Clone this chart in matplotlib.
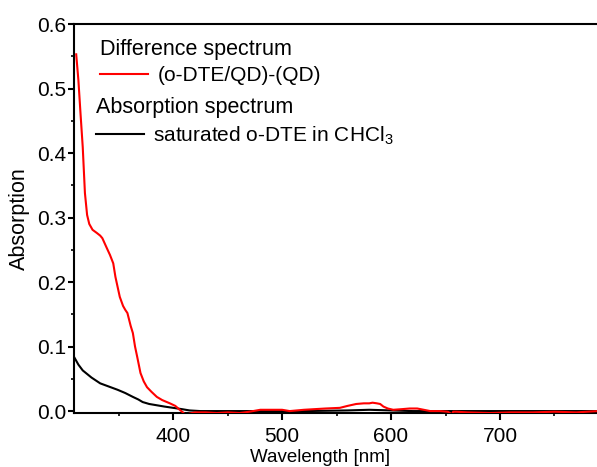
import numpy as np
import matplotlib.pyplot as plt

plt.rcParams['font.family'] = ['Liberation Sans', 'DejaVu Sans']
plt.rcParams['mathtext.fontset'] = 'custom'
plt.rcParams['mathtext.rm'] = 'Liberation Sans'

# difference spectrum (o-DTE/QD)-(QD)
wl_diff = [311, 313, 315, 317, 319, 321, 323, 326, 330, 333, 335, 339, 342, 345,
           347, 351, 354, 356, 358, 361, 363, 365, 367, 370, 373, 376, 380, 385,
           390, 397, 402, 406, 409, 411, 415, 420, 430, 440, 450, 461, 470, 480,
           490, 500, 507, 520, 540, 553, 560, 568, 575, 580, 583, 587, 590, 593,
           597, 602, 610, 617, 624, 630, 636, 645, 652, 655, 656, 657, 660, 670,
           691, 710, 730, 750, 770, 790, 800]
abs_diff = [0.553, 0.513, 0.46, 0.409, 0.338, 0.304, 0.29, 0.281, 0.276, 0.272,
            0.268, 0.253, 0.242, 0.229, 0.208, 0.177, 0.163, 0.157, 0.152, 0.132,
            0.121, 0.10, 0.084, 0.059, 0.046, 0.037, 0.03, 0.022, 0.017, 0.012,
            0.008, 0.002, -0.002, -0.006, -0.004, -0.002, -0.002, -0.003, -0.002,
            -0.003, -0.001, 0.002, 0.002, 0.002, 0.0, 0.002, 0.004, 0.005, 0.008,
            0.011, 0.012, 0.012, 0.013, 0.012, 0.011, 0.007, 0.004, 0.002, 0.003,
            0.004, 0.004, 0.002, 0.0, 0.0, -0.001, -0.004, -0.006, -0.001, -0.001,
            -0.002, -0.003, -0.002, -0.002, -0.001, -0.002, 0.0, 0.0]

# absorption spectrum, saturated o-DTE in CHCl3
wl_abs = [309, 313, 317, 325, 333, 341, 349, 356, 363, 368, 372, 378, 385, 392,
          400, 408, 415, 425, 440, 470, 520, 560, 580, 600, 620, 700, 800]
abs_abs = [0.084, 0.072, 0.063, 0.052, 0.043, 0.038, 0.033, 0.028, 0.022, 0.018,
           0.014, 0.011, 0.009, 0.007, 0.005, 0.003, 0.001, 0.0, 0.0, 0.0, 0.0,
           0.001, 0.002, 0.001, 0.0, 0.0, 0.0]

fig = plt.figure(figsize=(5.97, 4.67), dpi=100)
ax = fig.add_axes([0.124, 0.1156, 0.896, 0.833])

l1, = ax.plot(wl_diff, abs_diff, color='red', lw=1.5, zorder=3)
l2, = ax.plot(wl_abs, abs_abs, color='black', lw=1.5, zorder=2)

ax.set_xlim(309, 800)
ax.set_ylim(-0.003, 0.6)
ax.set_xticks([400, 500, 600, 700])
ax.set_xticks([350, 450, 550, 650, 750], minor=True)
ax.set_yticks(np.arange(0, 0.61, 0.1))
ax.set_yticks(np.arange(0.05, 0.6, 0.1), minor=True)
ax.set_yticklabels(['0.0', '0.1', '0.2', '0.3', '0.4', '0.5', '0.6'])

ax.spines['right'].set_visible(False)
for s in ['left', 'bottom', 'top']:
    ax.spines[s].set_linewidth(1.5)
ax.tick_params(axis='both', which='major', direction='out', width=1.5,
               labelsize=15)
ax.tick_params(axis='x', which='major', length=5, pad=5)
ax.tick_params(axis='y', which='major', length=4.5, pad=1)
ax.tick_params(axis='both', which='minor', direction='out', width=1.2, length=2.5)

ax.set_xlabel('Wavelength [nm]', fontsize=13.5)
ax.set_ylabel('Absorption', fontsize=15.5)
ax.xaxis.set_label_coords(0.46, -0.093)
ax.yaxis.set_label_coords(-0.083, 0.5)

leg1 = ax.legend([l1], ['(o-DTE/QD)-(QD)'], title='Difference spectrum',
                 loc='upper left', bbox_to_anchor=(100 / 597, 1 - 39 / 467),
                 bbox_transform=fig.transFigure, frameon=False, fontsize=15,
                 title_fontsize=15.5, alignment='left', handlelength=2.3,
                 handletextpad=0.45, borderpad=0, borderaxespad=0,
                 labelspacing=0.3)
ax.add_artist(leg1)
ax.legend([l2], ['saturated o-DTE in CHCl$_3$'], title='Absorption spectrum',
          loc='upper left', bbox_to_anchor=(96 / 597, 1 - 97 / 467),
          bbox_transform=fig.transFigure, frameon=False, fontsize=15,
          title_fontsize=15.5, alignment='left', handlelength=2.3,
          handletextpad=0.45, borderpad=0, borderaxespad=0,
          labelspacing=0.3)

plt.savefig('out.png', dpi=100)
